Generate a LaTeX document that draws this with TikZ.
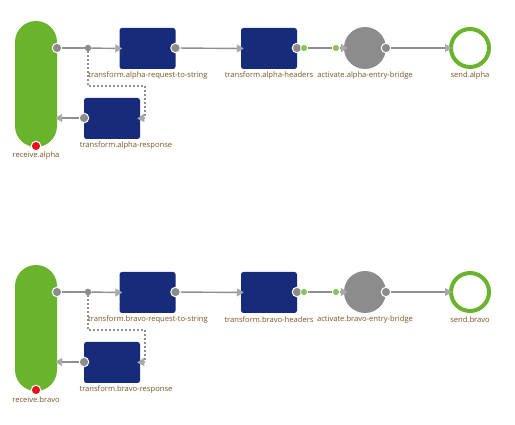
\documentclass[tikz,border=0pt]{standalone}
\usepackage{fontspec}
\setmainfont{Open Sans}
\usetikzlibrary{arrows.meta}
\definecolor{pillgreen}{HTML}{6AB42D}
\definecolor{boxblue}{HTML}{172B7B}
\definecolor{portgray}{HTML}{8C8C8C}
\definecolor{linegray}{HTML}{8F8F8F}
\definecolor{tipgray}{HTML}{A8A8A8}
\definecolor{labelbrown}{HTML}{7A5523}
\definecolor{dotred}{HTML}{E3141E}
\tikzset{
  pill/.style={fill=pillgreen,draw=none,rounded corners=21pt,minimum width=42pt,minimum height=126pt,inner sep=0pt},
  bluebox/.style={fill=boxblue,draw=none,rounded corners=2.5pt,minimum width=56pt,minimum height=41pt,inner sep=0pt},
  bridge/.style={circle,fill=portgray,draw=none,minimum size=42pt,inner sep=0pt},
  sendring/.style={circle,draw=pillgreen,line width=4pt,minimum size=38pt,inner sep=0pt},
  port/.style={circle,fill=portgray,draw=white,line width=1pt,minimum size=9.5pt,inner sep=0pt},
  jdot/.style={circle,fill=portgray,draw=none,minimum size=6.5pt,inner sep=0pt},
  gport/.style={circle,fill=pillgreen!80!white,draw=white,line width=0.6pt,minimum size=7pt,inner sep=0pt},
  rdot/.style={circle,fill=dotred,draw=white,line width=1pt,minimum size=9.5pt,inner sep=0pt},
  lbl/.style={text=labelbrown,font=\fontsize{7.6}{9}\selectfont,inner sep=0pt},
  conn/.style={draw=linegray,line width=1.4pt,-{Triangle[length=7pt,width=8pt,fill=tipgray,color=tipgray]}},
  plainconn/.style={draw=linegray,line width=1.4pt},
  dashconn/.style={draw=linegray,line width=1.3pt,dash pattern=on 2pt off 2pt},
}
\newcommand{\flowrow}[2]{%
\begin{scope}[yshift=#2]
  \node[pill] (pill#1) at (36,84) {};
  \node[bluebox] (req#1) at (147.5,48.5) {};
  \node[bluebox] (hdr#1) at (269,48.5) {};
  \node[bluebox] (resp#1) at (112,118.5) {};
  \node[bridge] (act#1) at (365,48) {};
  \node[sendring] (send#1) at (470,48) {};
  \node[port] (pout#1) at (57,48) {};
  \node[jdot] (j#1) at (88,48) {};
  \node[port] (rqout#1) at (175.5,48) {};
  \node[port] (hdout#1) at (297,48) {};
  \node[gport] (gout#1) at (304,48) {};
  \node[gport] (gin#1) at (336,48) {};
  \node[port] (acout#1) at (386,48) {};
  \node[port] (rsout#1) at (84,118) {};
  \node[rdot] (red#1) at (36,146) {};
  \coordinate (d1#1) at (88,86);
  \coordinate (d2#1) at (145,86);
  \coordinate (d3#1) at (145,118);
  % connectors
  \draw[plainconn] (pout#1) -- (j#1);
  \draw[conn] (j#1) -- ([xshift=3pt]req#1.west);
  \draw[conn] (rqout#1) -- ([xshift=3pt]hdr#1.west);
  \draw[plainconn] (gout#1) -- (gin#1);
  \draw[conn] (gin#1) -- ([xshift=4pt]act#1.west);
  \draw[conn] (acout#1) -- ([xshift=3pt]send#1.west);
  \draw[dashconn] (j#1) -- (d1#1) -- (d2#1) -- (d3#1);
  \draw[conn,dash pattern=on 2pt off 2pt] (d3#1) -- ([xshift=-3pt]resp#1.east);
  \draw[conn] (rsout#1) -- ([xshift=-2pt]pill#1.east |- rsout#1);
  % labels
  \node[lbl] (lreq#1) at (148,76) {transform.#1-request-to-string};
  \node[lbl] (lhdr#1) at (269,76) {transform.#1-headers};
  \node[lbl] (lact#1) at (365,76) {activate.#1-entry-bridge};
  \node[lbl] (lsend#1) at (470,76) {send.#1};
  \node[lbl] (lresp#1) at (126,146) {transform.#1-response};
  \node[lbl] (lpill#1) at (36,155.5) {receive.#1};
\end{scope}}
\begin{document}
\begin{tikzpicture}[x=1pt,y=-1pt]
\useasboundingbox[fill=white] (0,0) rectangle (515,425);
\flowrow{alpha}{0pt}
\flowrow{bravo}{-244pt}
\end{tikzpicture}
\end{document}
